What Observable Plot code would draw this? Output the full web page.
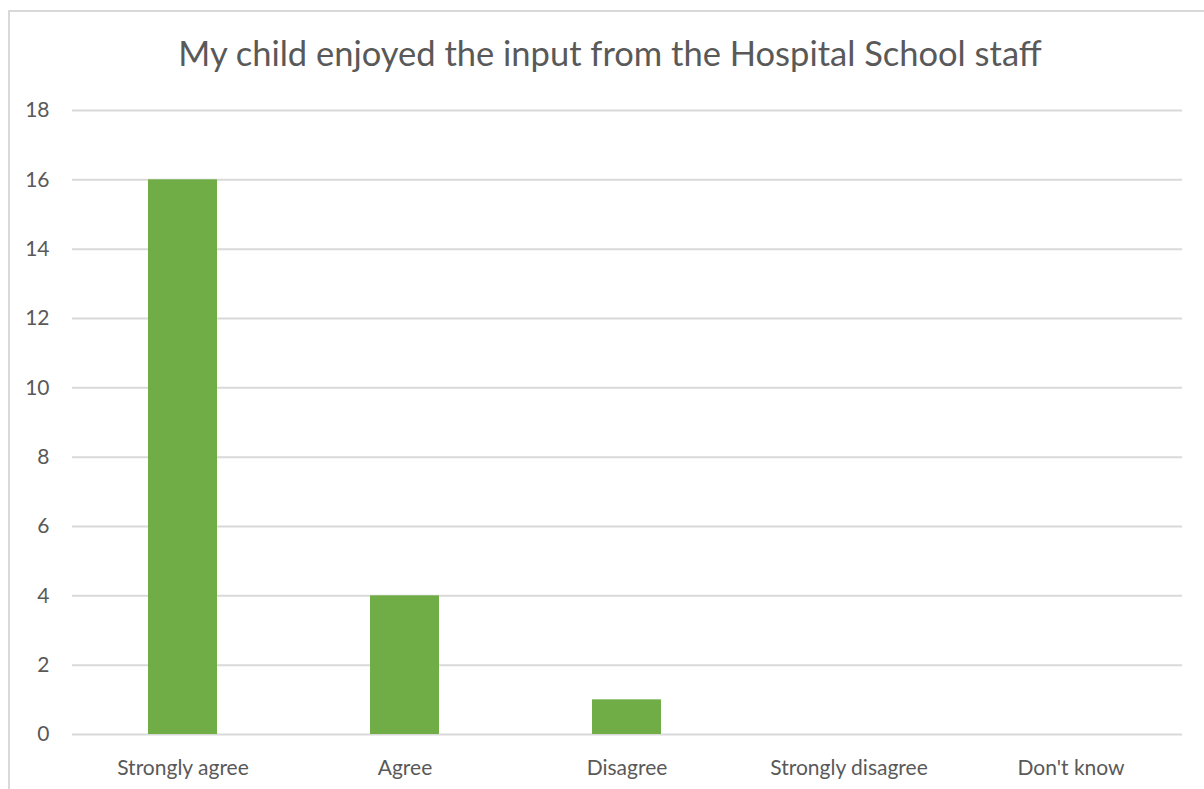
<!DOCTYPE html>
<html>
<head>
<meta charset="utf-8">
<script src="https://cdn.jsdelivr.net/npm/d3@7"></script>
<script src="https://cdn.jsdelivr.net/npm/@observablehq/plot@0.6"></script>
<style>
  html, body { margin: 0; padding: 0; background: #fff; }
  body { width: 1204px; height: 789px; position: relative; overflow: hidden; font-family: Lato, "Open Sans", sans-serif; }
  #frame { position: absolute; left: 8px; top: 10px; width: 1300px; height: 900px; border: 2px solid #d9d9d9; box-sizing: border-box; }
  #title { position: absolute; left: 0; width: 1220px; top: 36px; text-align: center; font-size: 34.5px; color: #595959; line-height: 1; }
  #chart { position: absolute; left: 0; top: 0; }
</style>
</head>
<body>
<div id="frame"></div>
<div id="chart"></div>
<div id="title">My child enjoyed the input from the Hospital School staff</div>
<script>
const categories = ["Strongly agree", "Agree", "Disagree", "Strongly disagree", "Don't know"];
const values = [16, 4, 1, 0, 0];
const yTicks = [0, 2, 4, 6, 8, 10, 12, 14, 16, 18];

const data = categories.map((c, i) => ({category: c, value: values[i]}));

const chart = Plot.plot({
  width: 1204,
  height: 789,
  marginLeft: 72,
  marginRight: 22,
  marginTop: 110,
  marginBottom: 55,
  style: {fontFamily: "Lato, 'Open Sans', sans-serif", fontSize: "21px", color: "#595959", background: "transparent"},
  x: {domain: categories, paddingInner: 0.687, paddingOuter: 0.3435, label: null},
  y: {domain: [0, 18], label: null},
  marks: [
    Plot.gridY(yTicks, {stroke: "#d9d9d9", strokeOpacity: 1, strokeWidth: 2}),
    Plot.barY(data, {x: "category", y: "value", fill: "#70AD47"}),
    Plot.axisY(yTicks, {tickSize: 0, tickPadding: 23, fontSize: 21, fill: "#595959"}),
    Plot.axisX({tickSize: 0, tickPadding: 26, fontSize: 21, fill: "#595959"})
  ]
});
document.getElementById("chart").appendChild(chart);
</script>
</body>
</html>
